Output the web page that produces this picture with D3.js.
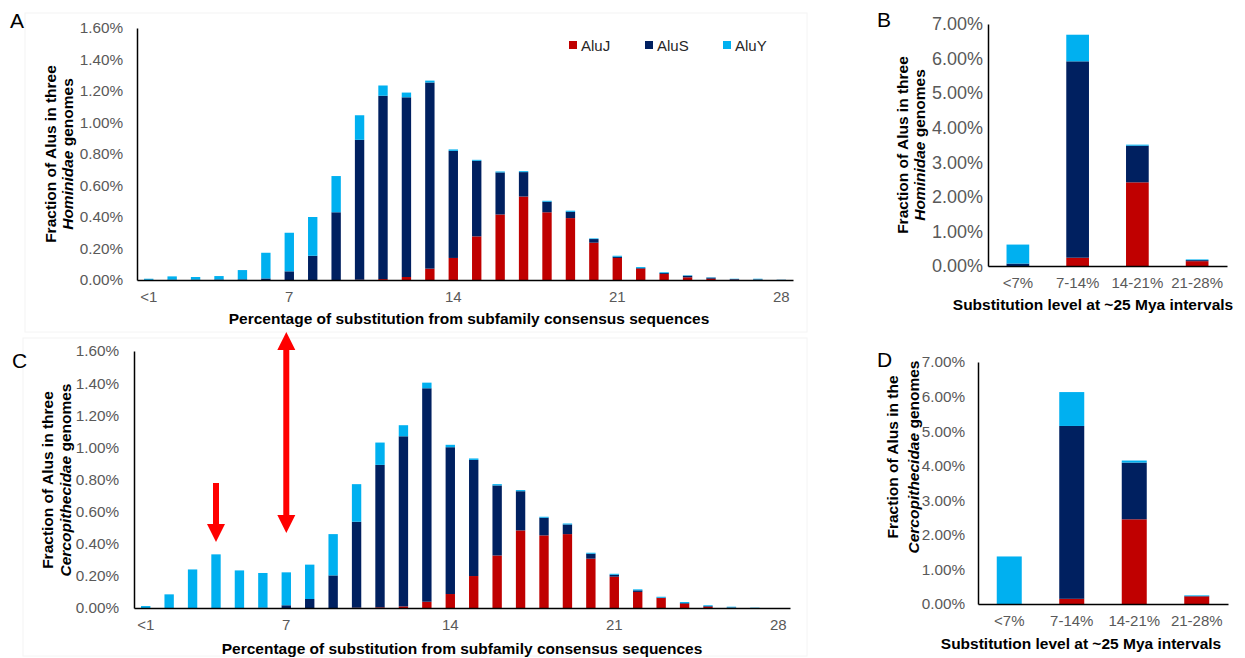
<!DOCTYPE html>
<html><head><meta charset="utf-8">
<script src="https://cdn.jsdelivr.net/npm/d3@7"></script>
<style>
body{margin:0;background:#fff;}
svg{display:block;}
svg text{font-family:"Liberation Sans",Arial,sans-serif;}
</style></head>
<body><svg id="chart" width="1245" height="658"></svg>
<script>
// ---------- DATA ----------
const series = ["AluJ", "AluS", "AluY"];
const colors = ["#C00000", "#002060", "#00B0F0"];

const substitutionBins = ["<1","2","3","4","5","6","7","8","9","10","11","12","13","14",
  "15","16","17","18","19","20","21","22","23","24","25","26","27","28"];
const shownBinLabels = ["<1","7","14","21","28"];

// Panel A: Hominidae (% of Alus)
const hominidaeAluJ = [0,0,0,0,0,0,0,0,0,0.002,0.006,0.019,0.072,0.14,0.277,0.416,0.53,0.43,0.393,0.237,0.14,0.072,0.038,0.017,0.008,0.002,0.001,0];
const hominidaeAluS = [0.001,0.002,0.002,0.003,0.004,0.010,0.055,0.154,0.43,0.888,1.164,1.141,1.182,0.68,0.48,0.267,0.155,0.067,0.04,0.023,0.008,0.004,0.006,0.01,0.007,0.004,0.003,0.001];
const hominidaeAluY = [0.007,0.021,0.017,0.022,0.059,0.163,0.245,0.246,0.23,0.156,0.065,0.03,0.012,0.009,0.006,0.006,0.006,0.006,0.007,0.004,0.006,0.006,0.005,0.003,0.002,0.002,0.004,0.001];

// Panel C: Cercopithecidae (% of Alus)
const cercoAluJ = [0,0,0,0,0,0,0,0,0,0.002,0.004,0.01,0.039,0.087,0.199,0.327,0.483,0.452,0.46,0.307,0.195,0.10,0.062,0.027,0.008,0.001,0,0];
const cercoAluS = [0,0,0,0,0,0.002,0.017,0.056,0.203,0.535,0.887,1.059,1.329,0.914,0.723,0.436,0.244,0.11,0.06,0.031,0.012,0.01,0.002,0.004,0.004,0.002,0,0];
const cercoAluY = [0.012,0.085,0.24,0.334,0.234,0.216,0.205,0.214,0.257,0.234,0.139,0.069,0.035,0.015,0.009,0.008,0.007,0.006,0.006,0.006,0.006,0.006,0.006,0.006,0.005,0.005,0.002,0];

const intervalBins = ["<7%","7-14%","14-21%","21-28%"];
// Panel B: Hominidae, ~25 Mya intervals
const hominidaeIntAluJ = [0, 0.24, 2.42, 0.14];
const hominidaeIntAluS = [0.07, 5.68, 1.06, 0.03];
const hominidaeIntAluY = [0.55, 0.77, 0.03, 0.02];
// Panel D: Cercopithecidae, ~25 Mya intervals
const cercoIntAluJ = [0, 0.15, 2.45, 0.22];
const cercoIntAluS = [0, 5.0, 1.64, 0.01];
const cercoIntAluY = [1.375, 0.98, 0.06, 0.02];

const detailTicks = [0,0.2,0.4,0.6,0.8,1.0,1.2,1.4,1.6];
const intervalTicks = [0,1,2,3,4,5,6,7];

// ---------- DRAW ----------
const FONT = '"Liberation Sans",Arial,sans-serif';
const svg = d3.select("#chart");
const tickColor = "#595959";

function rows(cats, J, S, Y){
  return cats.map((c,i)=>({cat:c, AluJ:J[i], AluS:S[i], AluY:Y[i]}));
}

function panel(o){
  const g = svg.append("g");
  if (o.frame) {
    g.append("rect").attr("x",o.frame[0]).attr("y",o.frame[1])
      .attr("width",o.frame[2]-o.frame[0]).attr("height",o.frame[3]-o.frame[1])
      .attr("fill","none").attr("stroke","#f4f4f4").attr("stroke-width",1);
  }
  const x = d3.scaleBand().domain(o.cats).range(o.xr)
    .paddingInner(o.pad).paddingOuter(o.pad/2);
  const y = d3.scaleLinear().domain([0, o.ymax]).range(o.yr);
  const data = rows(o.cats, o.J, o.S, o.Y);
  const stacked = d3.stack().keys(series)(data);

  g.selectAll("g.layer").data(stacked).join("g")
    .attr("fill",(d,i)=>colors[i])
    .selectAll("rect").data(d=>d).join("rect")
    .attr("x",d=>x(d.data.cat))
    .attr("width",x.bandwidth())
    .attr("y",d=>y(d[1]))
    .attr("height",d=>Math.max(0,y(d[0])-y(d[1])));

  // y axis
  const ya = d3.axisLeft(y).tickValues(o.yticks).tickSize(0).tickPadding(o.ypad)
    .tickFormat(d=>d.toFixed(2)+"%");
  const yg = g.append("g").attr("transform",`translate(${o.xr[0]},0)`).call(ya)
    .attr("font-family",FONT).attr("font-size",o.yfs);
  yg.select(".domain").attr("stroke","#000").attr("stroke-width",1.5);
  yg.selectAll("text").attr("fill",tickColor);

  // x axis
  const xa = d3.axisBottom(x).tickSize(0).tickPadding(o.xpad)
    .tickValues(o.xticks);
  const xg = g.append("g").attr("transform",`translate(0,${o.yr[0]})`).call(xa)
    .attr("font-family",FONT).attr("font-size",o.xfs);
  xg.select(".domain").attr("stroke","#000").attr("stroke-width",1.5);
  xg.selectAll("text").attr("fill",tickColor);

  // x title
  g.append("text").attr("x",o.xt[0]).attr("y",o.xt[1])
    .attr("text-anchor","middle").attr("dominant-baseline","central")
    .style("font-weight","bold").style("font-size",o.tfs+"px").attr("fill","#000")
    .text(o.xtitle);

  // y title (two lines)
  g.append("text").attr("transform",`translate(${o.yt[0]},${o.yt[2]}) rotate(-90)`)
    .attr("text-anchor","middle").attr("dominant-baseline","central")
    .style("font-weight","bold").style("font-size",o.tfs+"px").text(o.ytitle1);
  const t2 = g.append("text").attr("transform",`translate(${o.yt[1]},${o.yt[2]}) rotate(-90)`)
    .attr("text-anchor","middle").attr("dominant-baseline","central")
    .style("font-weight","bold").style("font-size",o.tfs+"px");
  t2.append("tspan").style("font-style","italic").text(o.ytitle2a);
  t2.append("tspan").text(o.ytitle2b);

  // panel letter
  g.append("text").attr("x",o.letter[0]).attr("y",o.letter[1])
    .attr("dominant-baseline","central").style("font-size","21px").attr("fill","#000")
    .text(o.letter[2]);
  return {x,y,g};
}

const A = panel({
  cats: substitutionBins, J: hominidaeAluJ, S: hominidaeAluS, Y: hominidaeAluY,
  xr:[137,793], yr:[280,28], ymax:1.6, pad:0.6, yticks:detailTicks, xticks:shownBinLabels,
  ypad:14, xpad:11, yfs:15.3, xfs:15, tfs:15.5,
  xt:[469,318], xtitle:"Percentage of substitution from subfamily consensus sequences",
  yt:[50,67,154], ytitle1:"Fraction of Alus in three", ytitle2a:"Hominidae", ytitle2b:" genomes",
  letter:[10,20,"A"], frame:[25,13,807,332]
});

const C = panel({
  cats: substitutionBins, J: cercoAluJ, S: cercoAluS, Y: cercoAluY,
  xr:[134,790], yr:[608,351], ymax:1.6, pad:0.6, yticks:detailTicks, xticks:shownBinLabels,
  ypad:15, xpad:11, yfs:15.3, xfs:15, tfs:15.5,
  xt:[462,648], xtitle:"Percentage of substitution from subfamily consensus sequences",
  yt:[47,65,480], ytitle1:"Fraction of Alus in three", ytitle2a:"Cercopithecidae", ytitle2b:" genomes",
  letter:[12,360,"C"], frame:[23,338,807,656]
});

panel({
  cats: intervalBins, J: hominidaeIntAluJ, S: hominidaeIntAluS, Y: hominidaeIntAluY,
  xr:[988,1227], yr:[266,24], ymax:7, pad:0.62, yticks:intervalTicks, xticks:intervalBins,
  ypad:5, xpad:11, yfs:18, xfs:15, tfs:15.5,
  xt:[1093,304], xtitle:"Substitution  level at ~25 Mya intervals",
  yt:[902,919,145], ytitle1:"Fraction of Alus in three", ytitle2a:"Hominidae", ytitle2b:" genomes",
  letter:[877,19,"B"]
});

panel({
  cats: intervalBins, J: cercoIntAluJ, S: cercoIntAluS, Y: cercoIntAluY,
  xr:[978,1228], yr:[604,362], ymax:7, pad:0.6, yticks:intervalTicks, xticks:intervalBins,
  ypad:13, xpad:11, yfs:15.3, xfs:15, tfs:15.5,
  xt:[1081,643], xtitle:"Substitution  level at ~25 Mya intervals",
  yt:[892,913,457], ytitle1:"Fraction of Alus in the", ytitle2a:"Cercopithecidae", ytitle2b:" genomes",
  letter:[877,359,"D"]
});

// legend in panel A
const leg = svg.append("g");
const legX = [569, 645, 723];
series.forEach((s,i)=>{
  leg.append("rect").attr("x",legX[i]).attr("y",41).attr("width",8).attr("height",8).attr("fill",colors[i]);
  leg.append("text").attr("x",legX[i]+12).attr("y",45).attr("dominant-baseline","central")
    .style("font-size","15px").attr("fill","#262626").text(s);
});

// red arrows in panel C (annotation, positioned by category)
const arrowColor = "#FF0000";
function vArrow(cx, yTop, yBot, up, down){
  const sw = 6, hw = 18, hh = 18;
  const top = up ? yTop + hh : yTop;
  const bot = down ? yBot - hh : yBot;
  svg.append("rect").attr("x",cx-sw/2).attr("y",top).attr("width",sw).attr("height",bot-top).attr("fill",arrowColor);
  if (down) {
    svg.append("path").attr("d",`M${cx-hw/2},${yBot-hh}L${cx+hw/2},${yBot-hh}L${cx},${yBot}Z`).attr("fill",arrowColor);
  }
  if (up) {
    svg.append("path").attr("d",`M${cx-hw/2},${yTop+hh}L${cx+hw/2},${yTop+hh}L${cx},${yTop}Z`).attr("fill",arrowColor);
  }
}
const cx3 = C.x("4") + C.x.bandwidth()/2;
const cx7 = C.x("7") + C.x.bandwidth()/2;
vArrow(cx3, 483, 542, false, true);
vArrow(cx7, 332, 533, true, true);
</script></body></html>
